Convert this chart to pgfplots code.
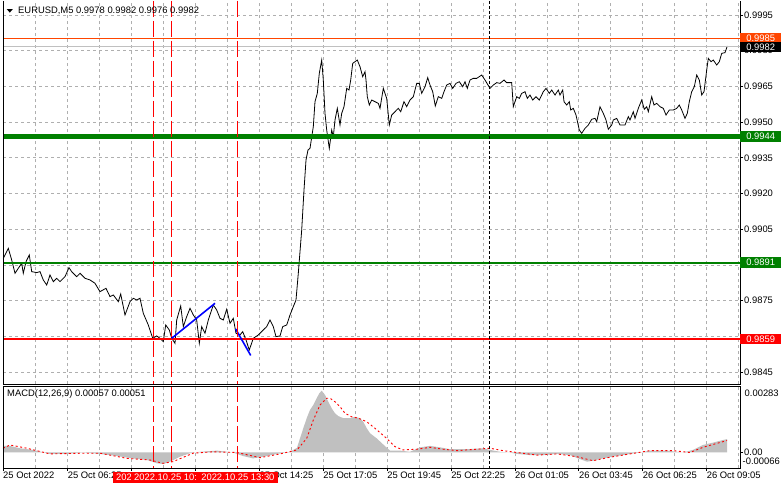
\documentclass[border=0pt]{standalone}
\usepackage{fontspec}
\setmainfont{Liberation Sans}
\usepackage{pgfplots}
\pgfplotsset{compat=1.18}

\definecolor{mtgrid}{RGB}{175,175,175}
\definecolor{mtsilver}{RGB}{192,192,192}
\definecolor{mtorange}{RGB}{255,69,0}
\definecolor{mtgreen}{RGB}{0,128,0}
\definecolor{mtred}{RGB}{255,0,0}
\definecolor{mtblue}{RGB}{0,0,255}
\newcommand\mt{\fontsize{9.4bp}{10bp}\selectfont}

\tikzset{
  vline/.style={mtred, line width=0.9bp, dash pattern=on 16bp off 4bp},
  sepline/.style={black, line width=0.9bp, dash pattern=on 3bp off 2bp},
  pbox/.style={anchor=west, fill=#1, text=white, font=\mt, minimum width=41bp,
    minimum height=10.5bp, inner xsep=0pt, inner ysep=0pt},
  tbox/.style={fill=mtred, text=white, font=\mt, minimum height=11bp,
    inner xsep=3bp, inner ysep=0pt, anchor=west},
}

\begin{document}
\begin{tikzpicture}
\fill[white] (0,0) rectangle (781bp,-489bp);
\useasboundingbox (0,0) rectangle (781bp,-489bp);

% ---------------- price panel ----------------
\begin{axis}[
  name=main, at={(3bp,-384bp)}, anchor=south west,
  width=737bp, height=383bp, scale only axis,
  xmin=3, xmax=740, ymin=0.984, ymax=1.00009,
  scaled ticks=false,
  axis line style={draw=none},
  xtick={35.7,67.65,99.6,131.55,163.5,195.45,227.4,259.35,291.3,323.25,355.2,387.15,
         419.1,451.05,483,514.95,546.9,578.85,610.8,642.75,674.7,706.65,738.6},
  xticklabels={},
  xtick style={draw=none},
  ytick={0.9845,0.986,0.9875,0.989,0.9905,0.992,0.9935,0.995,0.9965,0.998,0.9995},
  yticklabels={0.9845,,0.9875,0.9890,0.9905,0.9920,0.9935,0.9950,0.9965,0.9980,0.9995},
  ytick pos=right, yticklabel pos=right,
  tick align=outside, major tick length=3bp,
  ytick style={black, line width=0.8bp},
  yticklabel style={font=\mt, anchor=west, inner sep=0pt, xshift=1bp},
  xmajorgrids, ymajorgrids,
  major grid style={mtgrid, line width=0.8bp, dash pattern=on 3bp off 3bp},
  clip=false,
]
\addplot[black, line width=0.8bp] coordinates {
(3.3,0.98928) (8.3,0.98970) (11.7,0.98921) (15,0.98865) (18.3,0.98886) (21.7,0.98907)
(23.3,0.98865) (26,0.98914) (29.3,0.98942) (31.7,0.98872) (36.7,0.98868) (40,0.98872)
(43.3,0.98837) (46.7,0.98816) (50,0.98858) (53.3,0.98830) (56.7,0.98844) (60,0.98830)
(65,0.98851) (69,0.98889) (71.7,0.98872) (76.7,0.98851) (80,0.98865) (85,0.98844)
(90,0.98837) (95,0.98823) (100,0.98788) (106,0.98802) (110,0.98767) (113.3,0.98774)
(118.3,0.98746) (120.7,0.98778) (125,0.98690) (130,0.98746) (133.3,0.98760) (136.7,0.98753)
(140,0.98760) (143.3,0.98697) (148.3,0.98648) (152.7,0.98592) (156.7,0.98602) (160,0.98592)
(163.3,0.98578) (165.7,0.98648) (169.3,0.98627) (171.7,0.98592) (175,0.98571) (176.7,0.98669)
(180.7,0.98728) (183.3,0.98641) (186.7,0.98683) (190,0.98718) (193.3,0.98690) (196.7,0.98669)
(199.3,0.98571) (201.7,0.98641) (205,0.98613) (208.3,0.98669) (213.3,0.98732) (216.7,0.98711)
(220,0.98676) (223.3,0.98669) (226.7,0.98714) (230,0.98655) (233.3,0.98676) (236,0.98613)
(240,0.98606) (242.7,0.98620) (246,0.98585) (249.3,0.98543) (253.3,0.98592) (258.3,0.98606)
(263.3,0.98627) (266.7,0.98641) (270,0.98669) (273.3,0.98641) (276,0.98599) (280,0.98602)
(282.7,0.98641) (286.7,0.98648) (290,0.98690) (293.3,0.98725) (296,0.98753) (298.3,0.98865)
(301.7,0.99047) (304,0.99215) (306,0.99341) (308,0.99383) (310,0.99390) (313.3,0.99481)
(315,0.99586) (317.3,0.99621) (319.3,0.99705) (321.7,0.99761) (323.3,0.99677) (325,0.99537)
(326.7,0.99467) (329.3,0.99390) (331.7,0.99467) (333.3,0.99439) (335,0.99509) (337.3,0.99558)
(340,0.99488) (341.7,0.99537) (344,0.99565) (346.7,0.99642) (349,0.99635) (350.7,0.99677)
(352.7,0.99747) (355,0.99754) (357.3,0.99761) (360,0.99733) (362.7,0.99691) (365,0.99712)
(366,0.99677) (367.3,0.99607) (369.3,0.99572) (371.7,0.99593) (375,0.99586) (378.3,0.99579)
(380,0.99558) (383.3,0.99642) (386.7,0.99600) (389.3,0.99488) (391.7,0.99530) (395,0.99544)
(398.3,0.99558) (400.7,0.99544) (404,0.99586) (406.7,0.99565) (410,0.99593) (413.3,0.99607)
(416.7,0.99663) (419.3,0.99663) (421.7,0.99621) (425,0.99649) (427.7,0.99687) (430,0.99656)
(432.7,0.99628) (435.3,0.99568) (438.3,0.99607) (441.7,0.99600) (444,0.99628) (446.7,0.99656)
(450,0.99663) (452.7,0.99642) (456,0.99663) (459.3,0.99670) (462.7,0.99649) (465,0.99670)
(467.3,0.99642) (470,0.99677) (473.3,0.99684) (476.7,0.99684) (481.7,0.99698) (485,0.99677)
(490,0.99642) (493.3,0.99656) (496.7,0.99666) (500,0.99663) (504,0.99677) (506.7,0.99666)
(511.7,0.99666) (513.3,0.99565) (516.7,0.99607) (519.3,0.99600) (521.7,0.99621) (525,0.99628)
(527.3,0.99600) (530,0.99614) (532.7,0.99593) (536,0.99607) (539.3,0.99593) (543.3,0.99628)
(546,0.99642) (549.3,0.99621) (551.7,0.99635) (555,0.99614) (558.3,0.99635) (560,0.99614)
(562.7,0.99635) (564,0.99586) (566.7,0.99572) (569.3,0.99586) (570.7,0.99551) (573.3,0.99558)
(576,0.99530) (579.3,0.99467) (581.7,0.99453) (585,0.99474) (588.3,0.99488) (591.7,0.99512)
(595,0.99516) (596.7,0.99502) (600,0.99565) (603.3,0.99537) (606,0.99509) (608.3,0.99470)
(611.7,0.99488) (613.3,0.99509) (616.7,0.99516) (620,0.99488) (625,0.99488) (628.3,0.99523)
(630,0.99509) (633.3,0.99544) (635,0.99516) (638.3,0.99558) (641.7,0.99593) (644.3,0.99554)
(646.7,0.99565) (648.3,0.99544) (651.7,0.99607) (654,0.99572) (656.7,0.99579) (660,0.99565)
(663.3,0.99558) (666,0.99530) (669.3,0.99551) (673.3,0.99551) (676.7,0.99558) (679.3,0.99572)
(681.7,0.99551) (685,0.99516) (687.3,0.99537) (689.3,0.99586) (691.7,0.99628) (694.3,0.99649)
(696.7,0.99698) (699.3,0.99677) (701.7,0.99614) (704,0.99628) (706.7,0.99719) (708.3,0.99768)
(711,0.99754) (713.3,0.99761) (716.7,0.99740) (719.3,0.99754) (721.7,0.99789) (725,0.99792)
(727.3,0.99820)
};
% horizontal levels
\addplot[mtorange, line width=0.9bp] coordinates {(3,0.9985) (740,0.9985)};
\addplot[mtsilver, line width=0.9bp] coordinates {(3,0.9982) (740,0.9982)};
\addplot[mtgreen, line width=4.5bp] coordinates {(3,0.9944) (740,0.9944)};
\addplot[mtgreen, line width=2bp] coordinates {(3,0.9891) (740,0.9891)};
\addplot[mtred, line width=2bp] coordinates {(3,0.9859) (740,0.9859)};
% trend lines
\addplot[mtblue, line width=1.6bp] coordinates {(171.7,0.98592) (215,0.98739)};
\addplot[mtblue, line width=1.6bp] coordinates {(235.7,0.98631) (250.7,0.98520)};
% vertical lines
\draw[vline] (axis cs:153,1.00009) -- (axis cs:153,0.984);
\draw[vline] (axis cs:171,1.00009) -- (axis cs:171,0.984);
\draw[vline] (axis cs:237.7,1.00009) -- (axis cs:237.7,0.984);
\draw[sepline] (axis cs:489.3,1.00009) -- (axis cs:489.3,0.984);
% panel frame
\draw[black, line width=1bp] (rel axis cs:0,1) -- (rel axis cs:0,0) -- (rel axis cs:1,0) -- (rel axis cs:1,1);
\coordinate (b9985) at (axis cs:740,0.99852);
\coordinate (b9982) at (axis cs:740,0.99815);
\coordinate (b9944) at (axis cs:740,0.9944);
\coordinate (b9891) at (axis cs:740,0.9891);
\coordinate (b9859) at (axis cs:740,0.9859);
\end{axis}

% ---------------- MACD panel ----------------
\begin{axis}[
  name=macd, at={(3bp,-468bp)}, anchor=south west,
  width=737bp, height=82bp, scale only axis,
  xmin=3, xmax=740, ymin=-0.00066, ymax=0.00283,
  scaled ticks=false,
  axis line style={draw=none},
  xtick={3,67.65,131.55,195.45,259.35,323.25,387.15,451.05,514.95,578.85,642.75,706.65},
  xticklabels={25 Oct 2022,25 Oct 06:25,,,25 Oct 14:25,25 Oct 17:05,
               25 Oct 19:45,25 Oct 22:25,26 Oct 01:05,26 Oct 03:45,26 Oct 06:25,26 Oct 09:05},
  minor xtick={35.7,99.6,163.5,227.4,291.3,355.2,419.1,483,546.9,610.8,674.7,738.6},
  xtick pos=bottom,
  ytick={0}, yticklabels={0.00},
  ytick pos=right, yticklabel pos=right,
  tick align=outside, major tick length=3bp, minor tick length=0pt,
  tick style={black, line width=0.8bp},
  xticklabel style={font=\mt, anchor=north west, inner sep=0pt, yshift=-1bp},
  yticklabel style={font=\mt, anchor=west, inner sep=0pt, xshift=1bp},
  xmajorgrids, xminorgrids,
  major grid style={mtgrid, line width=0.8bp, dash pattern=on 3bp off 3bp},
  minor grid style={mtgrid, line width=0.8bp, dash pattern=on 3bp off 3bp},
  clip=false,
]
\addplot[fill=mtsilver, draw=none] coordinates {
(3,0.00028) (10,0.00028) (20,0.00018) (33,0.00011) (50,-0.00006) (67,-0.00006) (83,0.0)
(100,-0.00006) (117,-0.00015) (132,-0.00025) (147,-0.00032) (157,-0.00046) (163,-0.00049)
(170,-0.00039) (180,-0.00018) (190,-0.00003) (200,0.00003) (217,0.00008) (233,0.0)
(243,-0.00015) (253,-0.00025) (263,-0.00018) (277,-0.00006) (290,0.00003) (297,0.00020)
(300,0.0006) (303.3,0.00103) (306.7,0.00146) (310,0.00181) (313.3,0.00202) (316.7,0.00231)
(319.3,0.00252) (321.7,0.00263) (325,0.00245) (328.3,0.00216) (331.7,0.00188) (335,0.00167)
(338.3,0.00155) (343.3,0.00146) (350,0.00146) (355,0.00152) (360,0.00146) (363.3,0.00131)
(366.7,0.00103) (370,0.00082) (376.7,0.0006) (383,0.00035) (390,0.00008) (400,0.00008)
(410,0.00003) (420,0.00022) (430,0.00028) (440,0.00022) (450,0.00014) (467,0.00014)
(483,0.00018) (490,0.00011) (500,0.00003) (510,0.0) (517,-0.00006) (530,-0.00011)
(543,-0.00011) (557,-0.00006) (570,-0.00011) (578,-0.00025) (587,-0.00039) (593,-0.00035)
(603,-0.00025) (617,-0.00015) (630,-0.00006) (640,0.0) (650,0.00008) (667,0.00008)
(683,0.0) (693,0.00011) (703,0.00032) (713,0.00042) (720,0.00050) (727,0.00057)
} \closedcycle;
\addplot[mtred, line width=0.9bp, dash pattern=on 2bp off 2.5bp] coordinates {
(3,0.00018) (10,0.00032) (27,0.00018) (50,-0.00006) (83,-0.00003) (100,-0.00003)
(127,-0.00025) (150,-0.00032) (163,-0.00046) (173,-0.00039) (193,-0.00003) (213,0.00003)
(237,0.0) (260,-0.00022) (280,-0.00006) (297,0.00011) (306.7,0.0006) (313.3,0.00138)
(320,0.00202) (326.7,0.00231) (330,0.00231) (335,0.00216) (340,0.00195) (345,0.00167)
(351.7,0.00152) (358.3,0.00146) (366.7,0.00131) (375,0.00103) (386.7,0.0006) (395,0.00025)
(403,0.00011) (417,0.00014) (430,0.00022) (443,0.00014) (457,0.00008) (477,0.00014)
(490,0.00018) (503,0.00008) (517,0.0) (537,-0.00011) (557,-0.00006) (577,-0.00018)
(593,-0.00035) (610,-0.0002) (630,-0.00006) (650,0.00008) (673,0.00008) (690,0.0)
(703,0.00022) (727,0.00051)
};
\draw[vline] (axis cs:153,0.00283) -- (axis cs:153,-0.00066);
\draw[vline] (axis cs:171,0.00283) -- (axis cs:171,-0.00066);
\draw[vline] (axis cs:237.7,0.00283) -- (axis cs:237.7,-0.00066);
\draw[sepline] (axis cs:489.3,0.00283) -- (axis cs:489.3,-0.00066);
\draw[black, line width=1bp] (rel axis cs:0,1) rectangle (rel axis cs:1,0);
\end{axis}

% ---------------- labels and boxes ----------------
\fill (6.7bp,-9bp) -- (12.9bp,-9bp) -- (9.8bp,-12.6bp) -- cycle;
\node[anchor=west, inner sep=0pt, font=\mt] at (18bp,-10.5bp) {EURUSD,M5 0.9978 0.9982 0.9976 0.9982};
\node[anchor=west, inner sep=0pt, font=\mt] at (7bp,-394.5bp) {MACD(12,26,9) 0.00057 0.00051};
\node[anchor=west, inner sep=0pt, font=\mt] at (744.5bp,-393bp) {0.00283};
\node[anchor=west, inner sep=0pt, font=\mt] at (742.5bp,-461.5bp) {-0.00066};

\node[pbox=mtorange] at (b9985) {0.9985};
\node[pbox=black] at (b9982) {0.9982};
\node[pbox=mtgreen] at (b9944) {0.9944};
\node[pbox=mtgreen] at (b9891) {0.9891};
\node[pbox=mtred] at (b9859) {0.9859};

% vertical-line time tags, each cut by the next one as on the terminal
\node[tbox, minimum width=18bp] at (113bp,-477bp) {202};
\node[tbox, minimum width=66bp] at (131bp,-477bp) {2022.10.25 10:};
\node[tbox, minimum width=80bp] at (197.7bp,-477bp) {2022.10.25 13:30};
\end{tikzpicture}
\end{document}
